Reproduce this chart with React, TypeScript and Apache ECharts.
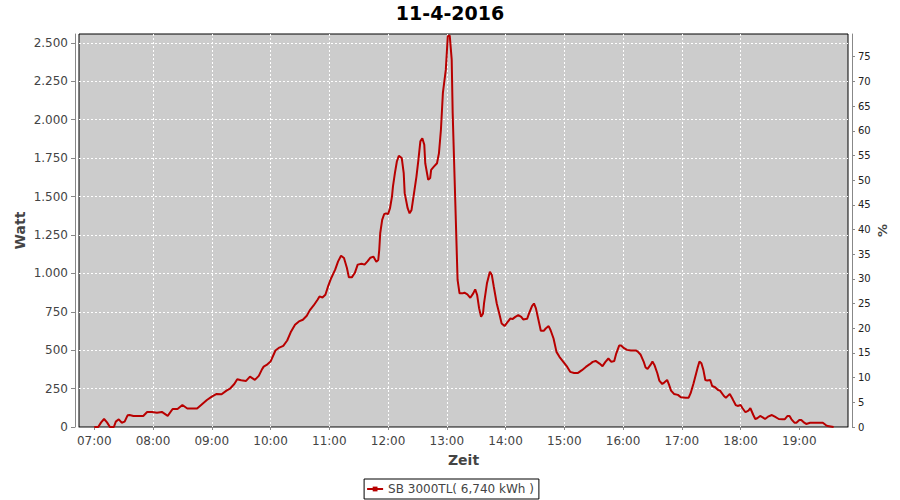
import React, { useEffect, useRef } from "react";
import * as echarts from "echarts";

const title = "11-4-2016";
const seriesName = "SB 3000TL( 6,740 kWh )";
const xTickLabels = ["07:00", "08:00", "09:00", "10:00", "11:00", "12:00", "13:00", "14:00", "15:00", "16:00", "17:00", "18:00", "19:00"];

const times = [
  "07:00", "07:04", "07:07", "07:10", "07:13", "07:16", "07:20", "07:22", "07:25", "07:28",
  "07:31", "07:34", "07:36", "07:40", "07:45", "07:50", "07:54", "07:59", "08:04", "08:09",
  "08:15", "08:20", "08:25", "08:30", "08:35", "08:40", "08:45", "08:50", "08:55", "09:00",
  "09:05", "09:10", "09:15", "09:19", "09:23", "09:26", "09:30", "09:35", "09:39", "09:44",
  "09:48", "09:51", "09:53", "09:56", "10:00", "10:05", "10:09", "10:13", "10:17", "10:21",
  "10:25", "10:29", "10:33", "10:37", "10:40", "10:44", "10:48", "10:50", "10:53", "10:56",
  "10:59", "11:02", "11:06", "11:09", "11:12", "11:15", "11:18", "11:20", "11:23", "11:26",
  "11:29", "11:33", "11:36", "11:39", "11:42", "11:45", "11:48", "11:50", "11:51", "11:52",
  "11:54", "11:56", "11:58", "12:00", "12:02", "12:04", "12:05", "12:07", "12:09", "12:11",
  "12:14", "12:16", "12:17", "12:20", "12:22", "12:24", "12:26", "12:29", "12:31", "12:33",
  "12:35", "12:37", "12:38", "12:41", "12:43", "12:44", "12:47", "12:50", "12:52", "12:54",
  "12:56", "12:59", "13:01", "13:03", "13:05", "13:06", "13:08", "13:10", "13:11", "13:13",
  "13:16", "13:18", "13:21", "13:24", "13:27", "13:29", "13:31", "13:33", "13:35", "13:37",
  "13:38", "13:41", "13:44", "13:46", "13:48", "13:51", "13:54", "13:56", "13:59", "14:01",
  "14:05", "14:07", "14:10", "14:13", "14:16", "14:18", "14:22", "14:24", "14:27", "14:29",
  "14:31", "14:34", "14:36", "14:39", "14:41", "14:44", "14:46", "14:49", "14:52", "14:55",
  "14:59", "15:03", "15:06", "15:10", "15:14", "15:18", "15:22", "15:26", "15:29", "15:32",
  "15:36", "15:39", "15:42", "15:45", "15:48", "15:51", "15:53", "15:56", "15:58", "16:01",
  "16:04", "16:08", "16:13", "16:15", "16:18", "16:21", "16:23", "16:25", "16:28", "16:30",
  "16:32", "16:35", "16:37", "16:40", "16:42", "16:45", "16:47", "16:49", "16:52", "16:56",
  "16:59", "17:04", "17:07", "17:09", "17:12", "17:16", "17:18", "17:20", "17:22", "17:24",
  "17:26", "17:29", "17:31", "17:34", "17:37", "17:39", "17:43", "17:45", "17:48", "17:49",
  "17:52", "17:55", "17:57", "18:00", "18:02", "18:05", "18:08", "18:10", "18:13", "18:15",
  "18:17", "18:20", "18:23", "18:25", "18:28", "18:32", "18:35", "18:39", "18:43", "18:45",
  "18:48", "18:50", "18:52", "18:55", "18:57", "19:00", "19:02", "19:05", "19:07", "19:11",
  "19:18", "19:24", "19:27", "19:29", "19:35"
];

const watts = [
  0, 0, 30, 52, 30, 0, 0, 35, 50, 28,
  35, 76, 78, 72, 72, 72, 98, 98, 93, 98,
  72, 117, 117, 143, 120, 120, 120, 148, 176, 198,
  215, 213, 237, 252, 280, 311, 304, 300, 328, 307,
  333, 372, 393, 404, 426, 498, 517, 528, 563, 622,
  665, 687, 698, 724, 759, 791, 828, 850, 843, 861,
  920, 970, 1024, 1078, 1115, 1100, 1035, 974, 974, 1002,
  1057, 1063, 1057, 1078, 1102, 1109, 1076, 1087, 1152, 1261,
  1348, 1385, 1391, 1385, 1424, 1500, 1565, 1652, 1728, 1765,
  1750, 1652, 1522, 1424, 1391, 1413, 1500, 1630, 1739, 1859,
  1880, 1837, 1717, 1609, 1620, 1674, 1696, 1717, 1783, 1935,
  2174, 2326, 2543, 2548, 2391, 2043, 1609, 1174, 957, 870,
  870, 874, 863, 841, 870, 896, 859, 772, 717, 739,
  804, 935, 1011, 989, 913, 804, 728, 674, 657, 674,
  707, 702, 717, 728, 717, 700, 704, 739, 787, 804,
  772, 685, 626, 626, 641, 657, 630, 576, 489, 457,
  424, 391, 359, 352, 352, 370, 391, 409, 424, 430,
  413, 396, 424, 446, 424, 430, 478, 530, 530, 513,
  502, 498, 498, 491, 470, 426, 387, 378, 404, 426,
  404, 350, 302, 280, 289, 306, 274, 237, 215, 209,
  193, 191, 191, 220, 285, 383, 426, 415, 372, 306,
  302, 306, 267, 259, 241, 237, 202, 191, 209, 215,
  180, 143, 137, 143, 122, 96, 107, 122, 78, 52,
  57, 72, 61, 52, 67, 78, 67, 52, 50, 50,
  72, 72, 50, 28, 28, 46, 46, 28, 20, 28,
  28, 28, 13, 6, 0
];

const toMin = (t: string) => {
  const [h, m] = t.split(":").map(Number);
  return h * 60 + m;
};

const fmtThousands = (v: number) => {
  const r = Math.round(v);
  if (r >= 1000) return Math.floor(r / 1000) + "." + String(r % 1000).padStart(3, "0");
  return String(r);
};

const fmtTime = (v: number) => {
  const h = Math.floor(v / 60);
  const m = Math.round(v % 60);
  return String(h).padStart(2, "0") + ":" + String(m).padStart(2, "0");
};

export default function App() {
  const ref = useRef<HTMLDivElement>(null);
  useEffect(() => {
    if (!ref.current) return;
    const chart = echarts.init(ref.current, null, { renderer: "svg" });
    const font = "DejaVu Sans";
    const xTicks = xTickLabels.map(toMin);
    const data = times.map((t, i) => [toMin(t), watts[i]]);
    chart.setOption({
      animation: false,
      backgroundColor: "#ffffff",
      textStyle: { fontFamily: font },
      title: {
        text: title,
        left: "center",
        top: -2,
        textStyle: { fontFamily: font, fontSize: 19, fontWeight: "bold", color: "#000" },
      },
      legend: {
        bottom: 1,
        left: "center",
        padding: [4, 5, 4, 2],
        borderColor: "#000",
        borderWidth: 1,
        itemWidth: 16,
        itemHeight: 6,
        textStyle: { fontFamily: font, fontSize: 12, color: "#444" },
        data: [seriesName],
      },
      grid: {
        left: 79,
        right: 52,
        top: 34,
        bottom: 73,
        show: true,
        backgroundColor: "#cccccc",
        borderColor: "#000000",
        borderWidth: 1,
        containLabel: false,
      },
      xAxis: {
        type: "value",
        min: 404.4,
        max: 1189.7,
        offset: 4,
        name: "Zeit",
        nameLocation: "middle",
        nameGap: 22,
        nameTextStyle: { fontFamily: font, fontSize: 14, fontWeight: "bold", color: "#444" },
        axisLine: { show: true, lineStyle: { color: "#888", width: 1 } },
        axisTick: { show: true, length: 3, customValues: xTicks, lineStyle: { color: "#888" } },
        axisLabel: {
          customValues: xTicks,
          formatter: (v: number) => fmtTime(v),
          fontFamily: font,
          fontSize: 12,
          color: "#444",
          margin: 4,
        },
        splitLine: { show: true, showMinLine: false, showMaxLine: false, lineStyle: { color: "#ffffff", type: [2, 2], width: 1 } },
      },
      yAxis: [
        {
          type: "value",
          position: "left",
          min: 0,
          max: 2558,
          interval: 250,
          offset: 4,
          name: "Watt",
          nameLocation: "middle",
          nameGap: 48,
          nameMoveOverlap: false,
          nameTextStyle: { fontFamily: font, fontSize: 14, fontWeight: "bold", color: "#444" },
          axisLine: { show: true, lineStyle: { color: "#888", width: 1 } },
          axisTick: { show: true, length: 4, lineStyle: { color: "#888" } },
          axisLabel: {
            formatter: (v: number) => fmtThousands(v),
            fontFamily: font,
            fontSize: 12,
            color: "#444",
            margin: 7,
            showMaxLabel: false,
          },
          splitLine: { show: true, showMinLine: false, showMaxLine: false, lineStyle: { color: "#ffffff", type: [2, 2], width: 1 } },
        },
        {
          type: "value",
          position: "right",
          min: 0,
          max: 79.6,
          interval: 5,
          offset: 4,
          name: "%",
          nameLocation: "middle",
          nameGap: 24,
          nameMoveOverlap: false,
          nameTextStyle: { fontFamily: font, fontSize: 13, fontWeight: "bold", color: "#444" },
          axisLine: { show: true, lineStyle: { color: "#888", width: 1 } },
          axisTick: { show: true, length: 3, lineStyle: { color: "#888" } },
          axisLabel: {
            fontFamily: font,
            fontSize: 10,
            color: "#222",
            margin: 6,
            showMaxLabel: false,
          },
          splitLine: { show: false },
        },
      ],
      series: [
        {
          name: seriesName,
          type: "line",
          yAxisIndex: 0,
          data,
          showSymbol: false,
          symbol: "rect",
          symbolSize: 4,
          lineStyle: { color: "#b80000", width: 2 },
          itemStyle: { color: "#b80000" },
          z: 3,
        },
      ],
    });
    return () => chart.dispose();
  }, []);
  return <div ref={ref} style={{ position: "fixed", left: 0, top: 0, width: 900, height: 500 }} />;
}
